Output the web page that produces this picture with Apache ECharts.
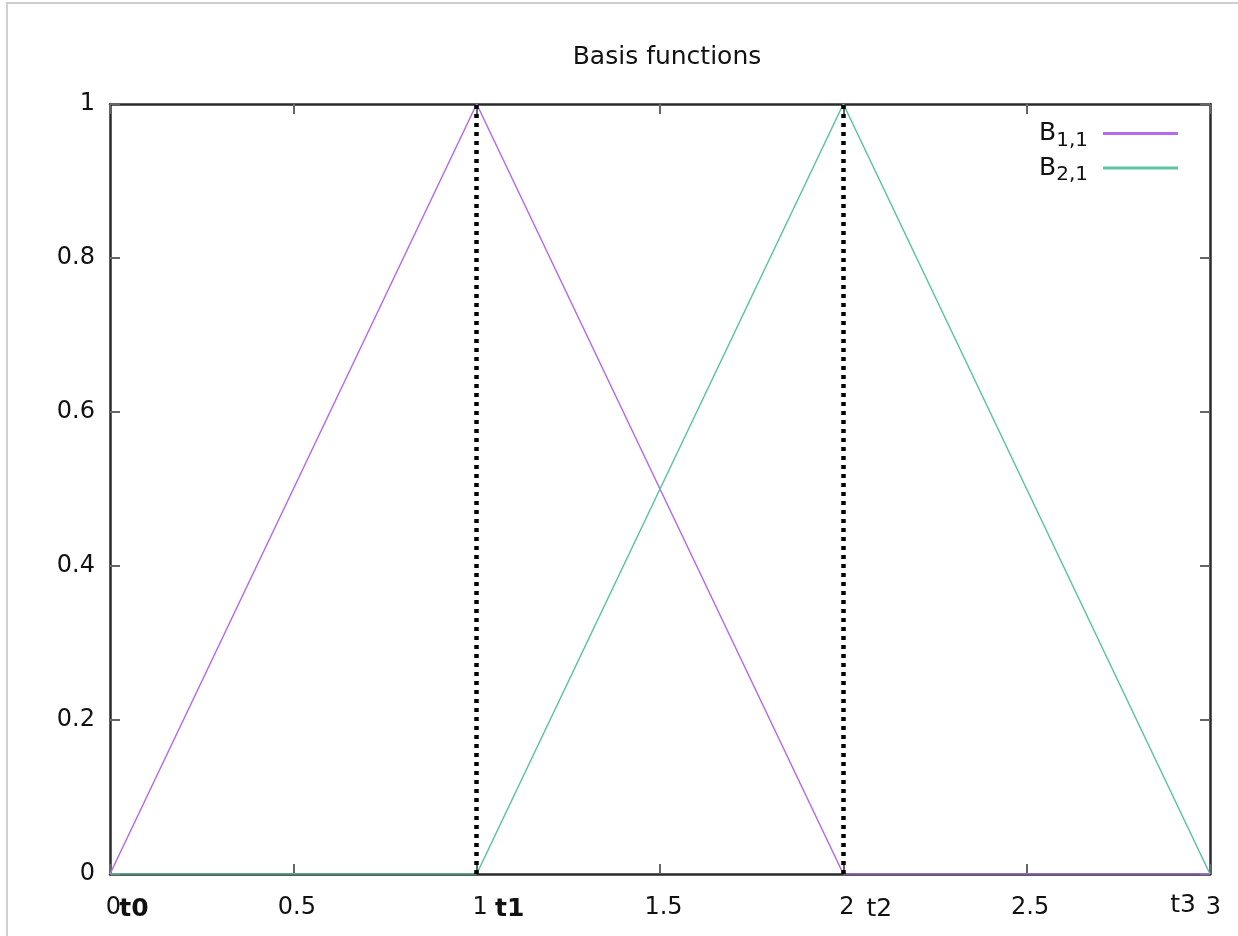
<!DOCTYPE html>
<html>
<head>
<meta charset="utf-8">
<script src="https://cdn.jsdelivr.net/npm/echarts@6/dist/echarts.min.js"></script>
<style>
html,body{margin:0;padding:0;background:#fff;}
#chart{width:1238px;height:936px;}
</style>
</head>
<body>
<div id="chart"></div>
<script>
// ---- data ----
var knots = [0, 1, 2, 3];
var knotLabels = ['t0', 't1', 't2', 't3'];
var b11Values = [0, 1, 0, 0];
var b21Values = [0, 0, 1, 0];
var dottedKnots = [1, 2];
var xTicks = [0, 0.5, 1, 1.5, 2, 2.5, 3];
var yTicks = [0, 0.2, 0.4, 0.6, 0.8, 1];
var seriesNames = ['B1,1', 'B2,1'];
var titleText = 'Basis functions';

// ---- styles ----
var FONT = 'DejaVu Sans';
var TXT = '#111';
var purple = '#b46cec';
var green = '#5cc3a3';
var labelStyles = [
  {offset: [24, 35], fontWeight: 'bold'},
  {offset: [33, 35], fontWeight: 'bold'},
  {offset: [36, 35], fontWeight: 'normal'},
  {offset: [-27, 31], fontWeight: 'normal'}
];

function zip(xs, ys) { return xs.map(function (x, i) { return [x, ys[i]]; }); }

var knotLabelData = knots.map(function (k, i) {
  return {
    value: [k, 0],
    name: knotLabels[i],
    itemStyle: {opacity: 1},
    label: {
      show: true,
      position: 'inside',
      offset: labelStyles[i].offset,
      fontWeight: labelStyles[i].fontWeight,
      formatter: knotLabels[i],
      fontFamily: FONT,
      fontSize: 25,
      color: TXT,
      opacity: 1,
      textBorderWidth: 0
    }
  };
});

var axisCommon = {
  type: 'value',
  axisLine: {show: true, onZero: false, lineStyle: {color: '#2a2a2a', width: 2.5}},
  axisTick: {show: true, inside: true, length: 10, lineStyle: {color: '#666', width: 2}},
  splitLine: {show: false}
};

var chart = echarts.init(document.getElementById('chart'), null, {renderer: 'canvas'});
chart.setOption({
  backgroundColor: '#fff',
  animation: false,
  title: {
    text: titleText,
    left: 662,
    top: 40,
    textAlign: 'center',
    textStyle: {fontFamily: FONT, fontSize: 25, fontWeight: 'normal', color: TXT}
  },
  graphic: [{
    type: 'rect',
    shape: {x: 7, y: 3, width: 1300, height: 1000},
    style: {fill: 'none', stroke: '#cfcfcf', lineWidth: 2},
    silent: true,
    z: -10
  }],
  legend: {
    data: seriesNames.map(function (n, i) {
      return {name: n, icon: 'rect', itemStyle: {color: i === 0 ? purple : green}};
    }),
    right: 55,
    top: 116,
    orient: 'vertical',
    align: 'right',
    itemWidth: 75,
    itemHeight: 3,
    itemGap: 5,
    formatter: function (name) {
      var parts = name.split('B');
      return '{b|B}{s|' + parts[1] + '}';
    },
    textStyle: {
      padding: [0, 10, 0, 0],
      rich: {
        b: {fontFamily: FONT, fontSize: 25, color: TXT},
        s: {fontFamily: FONT, fontSize: 20, color: TXT, padding: [14, 0, 0, 0]}
      }
    }
  },
  grid: {left: 110, right: 28, top: 104, bottom: 62, containLabel: false},
  xAxis: [
    Object.assign({}, axisCommon, {
      position: 'bottom', min: xTicks[0], max: xTicks[xTicks.length - 1], interval: xTicks[1] - xTicks[0],
      axisLabel: {show: true, margin: 22, fontFamily: FONT, fontSize: 24, color: TXT, padding: [0, 0, 0, 7]}
    }),
    Object.assign({}, axisCommon, {
      position: 'top', min: xTicks[0], max: xTicks[xTicks.length - 1], interval: xTicks[1] - xTicks[0],
      axisLabel: {show: false}
    })
  ],
  yAxis: [
    Object.assign({}, axisCommon, {
      position: 'left', min: yTicks[0], max: yTicks[yTicks.length - 1], interval: yTicks[1] - yTicks[0],
      axisLabel: {show: true, margin: 15, fontFamily: FONT, fontSize: 24, color: TXT}
    }),
    Object.assign({}, axisCommon, {
      position: 'right', min: yTicks[0], max: yTicks[yTicks.length - 1], interval: yTicks[1] - yTicks[0],
      axisLabel: {show: false}
    })
  ],
  series: [
    {
      name: seriesNames[0],
      type: 'line',
      data: zip(knots, b11Values),
      symbol: 'none',
      lineStyle: {color: purple, width: 1.5},
      itemStyle: {color: purple},
      z: 3,
      markLine: {
        silent: true,
        symbol: 'none',
        label: {show: false},
        lineStyle: {color: '#000', width: 4.5, type: [4, 5]},
        data: dottedKnots.map(function (k) { return {xAxis: k}; })
      }
    },
    {
      name: seriesNames[1],
      type: 'line',
      data: zip(knots, b21Values),
      symbol: 'none',
      lineStyle: {color: green, width: 1.5},
      itemStyle: {color: green},
      z: 3
    },
    {
      name: 'knots',
      type: 'scatter',
      data: knotLabelData,
      symbolSize: 0,
      itemStyle: {opacity: 1},
      silent: true,
      z: 5
    }
  ]
});
</script>
</body>
</html>
